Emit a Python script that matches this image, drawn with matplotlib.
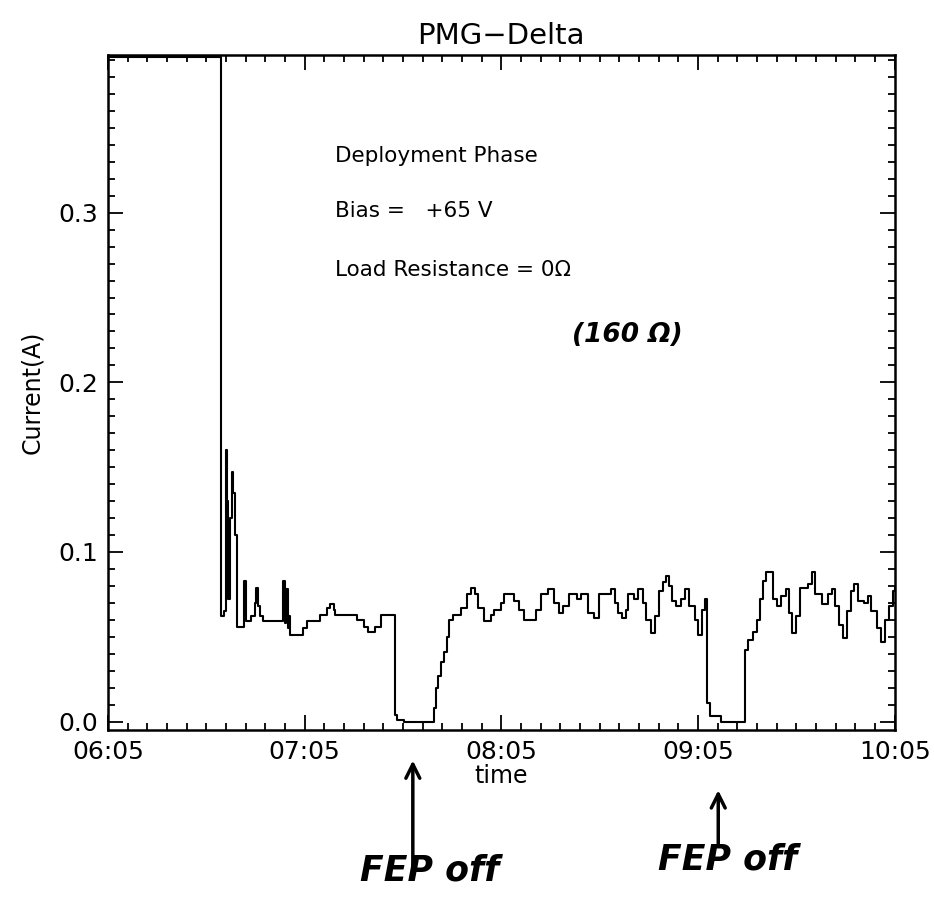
import matplotlib.pyplot as plt
from matplotlib.ticker import MultipleLocator, FormatStrFormatter

# minutes after 06:05 and current in A (step-like record)
minutes = [0.0, 34.5, 35.5, 36.1, 36.4, 36.7, 37.3, 37.9, 38.2, 38.8, 39.4,
           41.6, 42.0, 43.7, 44.9, 45.2, 45.9, 46.5, 47.4, 53.5, 54.0, 54.4,
           54.9, 55.3, 55.6, 59.6, 60.8, 64.8, 66.9, 67.6, 68.8, 69.4, 76.1,
           78.0, 79.2, 81.6, 83.2, 87.7, 88.3, 90.2, 99.4, 100.0, 100.6,
           101.5, 102.4, 103.3, 103.9, 105.2, 107.6, 109.4, 110.7, 111.9,
           112.8, 114.6, 116.8, 117.7, 119.8, 120.8, 123.8, 125.3, 126.9,
           130.5, 132.1, 134.2, 136.0, 137.6, 138.8, 140.6, 143.1, 144.3,
           146.4, 148.3, 149.8, 153.5, 154.7, 155.6, 156.8, 158.0, 158.7,
           160.5, 161.7, 163.2, 164.2, 165.7, 166.9, 168.2, 169.4, 170.3,
           171.2, 172.1, 173.3, 174.9, 176.1, 177.3, 179.1, 180.1, 181.3,
           182.2, 182.8, 183.7, 187.1, 194.4, 195.3, 196.9, 198.1, 199.0,
           199.9, 200.8, 203.0, 204.2, 205.4, 206.9, 207.8, 208.8, 210.0,
           211.2, 213.4, 214.6, 215.8, 217.7, 219.5, 220.7, 221.9, 222.9,
           224.1, 225.3, 226.5, 227.7, 228.9, 230.5, 231.7, 232.9, 234.5,
           235.7, 236.9, 238.1, 239.4, 240.0]
current = [0.392, 0.062, 0.065, 0.160, 0.130, 0.072, 0.120, 0.147, 0.135, 0.110, 0.056,
           0.083, 0.059, 0.062, 0.070, 0.079, 0.068, 0.062, 0.059, 0.083, 0.058, 0.078,
           0.055, 0.062, 0.051, 0.055, 0.059, 0.063, 0.067, 0.069, 0.066, 0.063, 0.060,
           0.056, 0.053, 0.056, 0.063, 0.004, 0.001, 0.000, 0.008, 0.020, 0.027,
           0.035, 0.041, 0.050, 0.060, 0.063, 0.067, 0.075, 0.079, 0.075,
           0.067, 0.059, 0.063, 0.066, 0.070, 0.075, 0.071, 0.066, 0.060,
           0.066, 0.075, 0.078, 0.070, 0.064, 0.068, 0.075, 0.072, 0.075,
           0.064, 0.061, 0.075, 0.078, 0.070, 0.064, 0.061, 0.066, 0.075,
           0.072, 0.078, 0.070, 0.060, 0.052, 0.062, 0.077, 0.082, 0.086,
           0.080, 0.071, 0.068, 0.072, 0.078, 0.068, 0.060, 0.051, 0.066,
           0.072, 0.011, 0.003, 0.000, 0.042, 0.048, 0.053, 0.060, 0.072,
           0.083, 0.088, 0.072, 0.068, 0.074, 0.078, 0.064, 0.052, 0.062,
           0.079, 0.081, 0.088, 0.075, 0.069, 0.075, 0.078, 0.068, 0.057,
           0.049, 0.065, 0.077, 0.081, 0.071, 0.070, 0.074, 0.065, 0.055,
           0.047, 0.060, 0.068, 0.077, 0.079]

tick_minutes = [0, 60, 120, 180, 240]
tick_labels = ["06:05", "07:05", "08:05", "09:05", "10:05"]

fig = plt.figure(figsize=(9.34, 9.02), dpi=100)
ax = fig.add_axes([0.1156, 0.1907, 0.8424, 0.7483])

ax.plot(minutes, current, color="black", linewidth=1.5, drawstyle="steps-post")

ax.set_xlim(0, 240)
ax.set_ylim(-0.005, 0.393)
ax.set_xticks(tick_minutes)
ax.set_xticklabels(tick_labels)
ax.xaxis.set_minor_locator(MultipleLocator(6))
ax.yaxis.set_major_locator(MultipleLocator(0.1))
ax.yaxis.set_minor_locator(MultipleLocator(0.01))
ax.yaxis.set_major_formatter(FormatStrFormatter("%.1f"))
ax.tick_params(which="both", direction="in", top=True, right=True, width=1.3)
ax.tick_params(which="major", length=11, labelsize=18, pad=7)
ax.tick_params(which="minor", length=5)
for side in ax.spines.values():
    side.set_linewidth(1.8)

ax.set_title("PMG\u2212Delta", fontsize=21, pad=8)
ax.set_xlabel("time", fontsize=17, labelpad=0)
ax.set_ylabel("Current(A)", fontsize=17, labelpad=10)

ax.text(0.288, 0.842, "Deployment Phase", transform=ax.transAxes, fontsize=15.5)
ax.text(0.288, 0.760, "Bias =   +65 V", transform=ax.transAxes, fontsize=15.5)
ax.text(0.288, 0.672, "Load Resistance = 0\u03a9", transform=ax.transAxes, fontsize=15.5)

# handwritten notes
ax.text(0.590, 0.575, "(160 \u03a9)", transform=ax.transAxes, fontsize=19,
        style="italic", fontweight="bold")
fig.text(0.385, 0.024, "FEP off", fontsize=25, style="italic", fontweight="bold")
fig.text(0.705, 0.036, "FEP off", fontsize=25, style="italic", fontweight="bold")
arrow = dict(arrowstyle="->", color="black", lw=2.5, mutation_scale=25)
ax.annotate("", xy=(0.442, 0.160), xytext=(0.442, 0.037),
            xycoords="figure fraction", textcoords="figure fraction", arrowprops=arrow)
ax.annotate("", xy=(0.769, 0.127), xytext=(0.769, 0.060),
            xycoords="figure fraction", textcoords="figure fraction", arrowprops=arrow)

fig.savefig("out.png", dpi=100)
